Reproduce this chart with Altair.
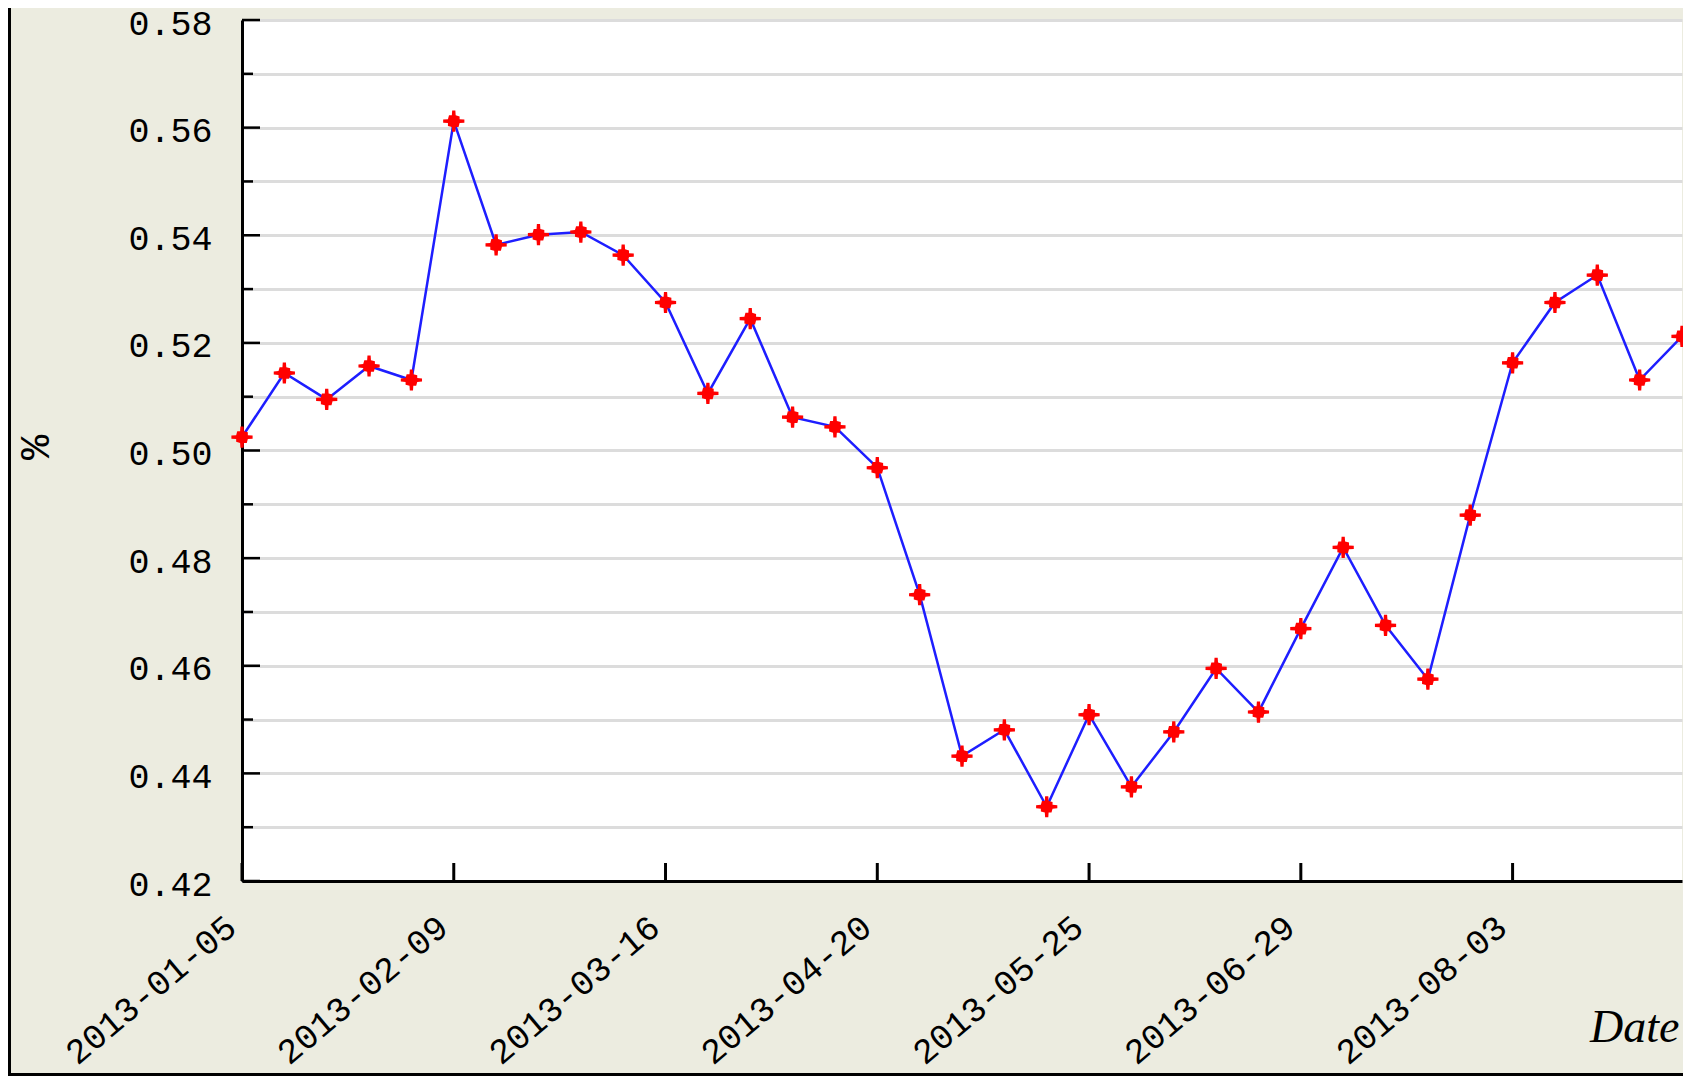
import altair as alt
import pandas as pd

# ---- data ----
dates = [
    "2013-01-05", "2013-01-12", "2013-01-19", "2013-01-26", "2013-02-02",
    "2013-02-09", "2013-02-16", "2013-02-23", "2013-03-02", "2013-03-09",
    "2013-03-16", "2013-03-23", "2013-03-30", "2013-04-06", "2013-04-13",
    "2013-04-20", "2013-04-27", "2013-05-04", "2013-05-11", "2013-05-18",
    "2013-05-25", "2013-06-01", "2013-06-08", "2013-06-15", "2013-06-22",
    "2013-06-29", "2013-07-06", "2013-07-13", "2013-07-20", "2013-07-27",
    "2013-08-03", "2013-08-10", "2013-08-17", "2013-08-24", "2013-08-31",
]
values = [
    0.5025, 0.5144, 0.5095, 0.5157, 0.5131,
    0.5612, 0.5382, 0.5401, 0.5406, 0.5363,
    0.5275, 0.5106, 0.5245, 0.5062, 0.5044,
    0.4968, 0.4732, 0.4432, 0.4481, 0.4338,
    0.4509, 0.4375, 0.4477, 0.4595, 0.4514,
    0.4669, 0.4820, 0.4675, 0.4575, 0.4880,
    0.5163, 0.5275, 0.5326, 0.5131, 0.5212,
]
x_tick_dates = ["2013-01-05", "2013-02-09", "2013-03-16", "2013-04-20",
                "2013-05-25", "2013-06-29", "2013-08-03"]
y_major = [0.42, 0.44, 0.46, 0.48, 0.50, 0.52, 0.54, 0.56, 0.58]
y_minor = [0.43, 0.45, 0.47, 0.49, 0.51, 0.53, 0.55, 0.57]
y_all = sorted(y_major + y_minor)

df = pd.DataFrame({"date": dates, "value": values})
df_xt = pd.DataFrame({"date": x_tick_dates})
df_ymaj = pd.DataFrame({"v": y_major})
df_ymin = pd.DataFrame({"v": y_minor})

W, H = 1440, 861
BG = "#ECECE0"
MONO = "Liberation Mono"


def dt(s):
    y, m, d = (int(p) for p in s.split("-"))
    return alt.DateTime(year=y, month=m, date=d, utc=True)


x_scale = alt.Scale(type="utc", domain=[dt(dates[0]), dt(dates[-1])])
y_scale = alt.Scale(domain=[0.42, 0.58], nice=False, zero=False)

x_axis = alt.Axis(
    values=[dt(s) for s in x_tick_dates],
    labelExpr="utcFormat(datum.value, '%Y-%m-%d')",
    grid=False, ticks=False,
    domain=True, domainColor="black", domainWidth=3,
    labelAngle=320, labelAlign="right", labelBaseline="top",
    labelPadding=28, labelFont=MONO, labelFontSize=35, labelColor="black",
    labelOverlap=False, labelFlush=False, labelBound=False, labelLimit=0,
    labelOffset=-22,
    title="Date", titleFont="Liberation Serif", titleFontStyle="italic",
    titleFontWeight="normal", titleFontSize=46, titleColor="black",
    titleAlign="right", titleAnchor="end", titleBaseline="alphabetic",
    titleX=1437, titleY=160,
)

y_axis = alt.Axis(
    values=y_all,
    labelExpr="round(datum.value*100) % 2 == 0 ? format(datum.value, '.2f') : ''",
    grid=True, gridColor="#DCDCDC", gridWidth=3,
    ticks=False,
    domain=True, domainColor="black", domainWidth=3,
    labelFont=MONO, labelFontSize=35, labelColor="black", labelPadding=30,
    labelOffset=3,
    labelOverlap=False, labelFlush=False, labelBound=False,
    title="%", titleFont=MONO, titleFontSize=42, titleFontWeight="normal",
    titleColor="black", titleAngle=270, titleAlign="center",
    titleBaseline="middle", titleX=-207, titleY=427,
)

base = alt.Chart(df)

line = base.mark_line(color="#1E1EFF", strokeWidth=2.5).encode(
    x=alt.X("date:T", scale=x_scale, axis=x_axis),
    y=alt.Y("value:Q", scale=y_scale, axis=y_axis),
)

star = ("M-0.15,-1L0.15,-1L0.18,-0.55L0.55,-0.45L0.55,-0.18L1,-0.15L1,0.15L0.55,0.18"
        "L0.45,0.55L0.18,0.55L0.15,1L-0.15,1L-0.18,0.55L-0.55,0.45L-0.55,0.18"
        "L-1,0.15L-1,-0.15L-0.55,-0.18L-0.45,-0.55L-0.18,-0.55Z")
points = base.mark_point(shape=star, filled=True, color="#FF0000",
                         opacity=1, size=450, strokeWidth=0).encode(
    x=alt.X("date:T", scale=x_scale),
    y=alt.Y("value:Q", scale=y_scale),
)

x_ticks = alt.Chart(df_xt).mark_rule(color="black", strokeWidth=3).encode(
    x=alt.X("date:T", scale=x_scale),
    y=alt.value(H - 18), y2=alt.value(H),
)
y_ticks_major = alt.Chart(df_ymaj).mark_rule(color="black", strokeWidth=2.5).encode(
    y=alt.Y("v:Q", scale=y_scale),
    x=alt.value(0), x2=alt.value(18),
)
y_ticks_minor = alt.Chart(df_ymin).mark_rule(color="black", strokeWidth=2.5).encode(
    y=alt.Y("v:Q", scale=y_scale),
    x=alt.value(0), x2=alt.value(11),
)

# window-frame edges (left and bottom)
left_border = alt.Chart(df_xt.head(1)).mark_rule(color="black", strokeWidth=3).encode(
    x=alt.value(-232.5), y=alt.value(-12), y2=alt.value(1056),
)
bottom_border = alt.Chart(df_xt.head(1)).mark_rule(color="black", strokeWidth=3).encode(
    x=alt.value(-234), x2=alt.value(W + 1), y=alt.value(1054.5),
)

chart = alt.layer(
    y_ticks_major, y_ticks_minor, x_ticks, line, points, left_border, bottom_border
).properties(
    width=W, height=H,
    background=BG,
    padding={"left": 234, "top": 12, "right": 1, "bottom": 195},
    autosize=alt.AutoSizeParams(type="none"),
).configure_view(
    fill="white", stroke=None, clip=False,
)

chart.save("out.html", embed_options={"renderer": "svg", "actions": False})
